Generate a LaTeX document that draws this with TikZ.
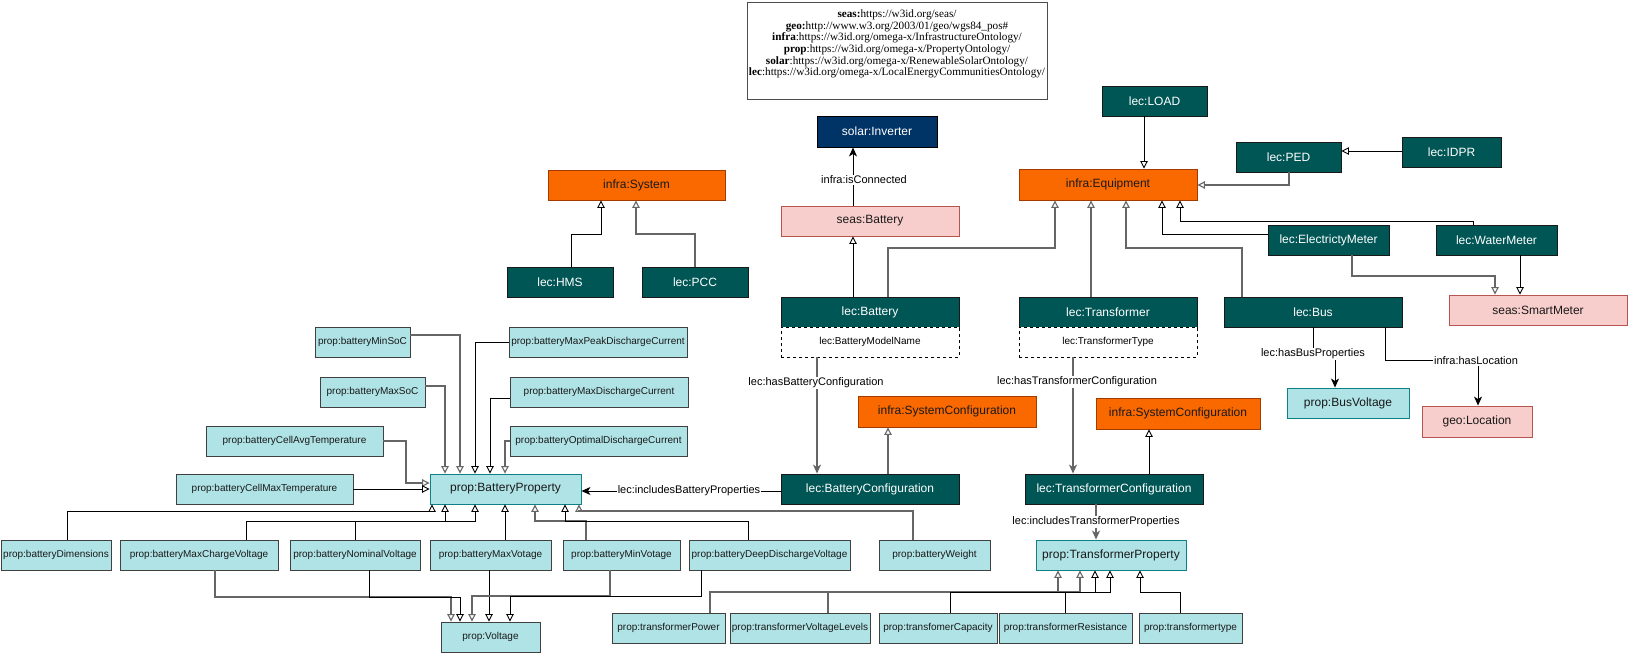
\documentclass[tikz,border=0pt]{standalone}
\usepackage{fontspec}
\setmainfont{Liberation Sans}
\newfontfamily\legendfont{Liberation Serif}
\usetikzlibrary{arrows.meta}
\definecolor{teal1}{HTML}{005555}
\definecolor{orange1}{HTML}{FA6800}
\definecolor{orangeb}{HTML}{A33A00}
\definecolor{pink1}{HTML}{F8CECC}
\definecolor{pinkb}{HTML}{B85450}
\definecolor{cyan1}{HTML}{B0E3E6}
\definecolor{cyanb}{HTML}{0E8088}
\definecolor{blue1}{HTML}{003366}
\definecolor{gray1}{HTML}{666666}
\newcommand\bx[7]{\node[#6, minimum width={#4-#2}, minimum height={#5-#3}] (#1) at ({(#2+#4)/2},{(#3+#5)/2}) {#7};}
\tikzset{
 box/.style={draw, line width=0.9pt, inner sep=0pt, font=\fontsize{12}{14}\selectfont},
 tealbox/.style={box, fill=teal1, draw=black!90, text=white},
 orangebox/.style={box, fill=orange1, draw=orangeb, text=black!90},
 pinkbox/.style={box, fill=pink1, draw=pinkb, text=black!90},
 cyanbox/.style={box, fill=cyan1, draw=cyanb, text=black!90},
 childbox/.style={box, fill=cyan1, draw=black!75, text=black!90, font=\fontsize{10}{12}\selectfont},
 dashbox/.style={box, fill=white, draw=black, dash pattern=on 3pt off 3pt, font=\fontsize{10}{12}\selectfont},
 bluebox/.style={box, fill=blue1, draw=black, text=white},
 isa/.style={-{Triangle[open,length=7.5pt,width=7.5pt]}, line width=0.9pt, draw=black},
 isag/.style={isa, draw=gray1, line width=1.1pt},
 rel/.style={-{Stealth[length=9pt,width=8pt,inset=2.5pt]}, line width=0.9pt, draw=black},
 relg/.style={rel, draw=gray1, line width=1.1pt},
 elabel/.style={fill=white, inner sep=1pt, font=\fontsize{11}{13}\selectfont, text=black},
}
\begin{document}
\begin{tikzpicture}[x=1pt,y=-1pt]
\useasboundingbox (0,0) rectangle (1628,653);
\fill[white] (0,0) rectangle (1628,653);
% legend
\node[draw=black!70, line width=0.9pt, minimum width=300, minimum height=97, inner sep=0pt, fill=white] (legend) at (897,50.5) {};
\node[font={\legendfont\fontsize{11.2}{11.7}\selectfont}, align=center, inner sep=0pt] (legendtext) at (897,44) {\textbf{seas:}https://w3id.org/seas/\\
\textbf{geo:}http://www.w3.org/2003/01/geo/wgs84\_pos\#\\
\textbf{infra}:https://w3id.org/omega-x/InfrastructureOntology/\\
\textbf{prop}:https://w3id.org/omega-x/PropertyOntology/\\
\textbf{solar}:https://w3id.org/omega-x/RenewableSolarOntology/\\
\textbf{lec}:https://w3id.org/omega-x/LocalEnergyCommunitiesOntology/};

% top area
\bx{inverter}{817}{116}{937}{147}{bluebox}{solar:Inverter}
\bx{sbat}{781}{206}{959}{236}{pinkbox}{seas:Battery}
\bx{load}{1102}{86}{1207}{116}{tealbox}{lec:LOAD}
\bx{equip}{1019}{169}{1197}{200}{orangebox}{infra:Equipment}
\bx{ped}{1236}{142}{1341}{172}{tealbox}{lec:PED}
\bx{idpr}{1402}{137}{1501}{167}{tealbox}{lec:IDPR}
\bx{em}{1268}{225}{1389}{255}{tealbox}{lec:ElectrictyMeter}
\bx{wm}{1436}{225}{1557}{255}{tealbox}{lec:WaterMeter}
\bx{smart}{1449}{295}{1627}{325}{pinkbox}{seas:SmartMeter}
\bx{lbat}{781}{297}{959}{327}{tealbox}{lec:Battery}
\bx{bmn}{781}{327}{959}{357}{dashbox}{lec:BatteryModelName}
\bx{ltr}{1019}{297}{1197}{327}{tealbox}{lec:Transformer}
\bx{ttype}{1019}{327}{1197}{357}{dashbox}{lec:TransformerType}
\bx{bus}{1224}{297}{1402}{327}{tealbox}{lec:Bus}
\bx{busv}{1287}{388}{1409}{418}{cyanbox}{prop:BusVoltage}
\bx{loc}{1422}{406}{1532}{437}{pinkbox}{geo:Location}
\bx{sys}{548}{170}{725}{200}{orangebox}{infra:System}
\bx{hms}{507}{267}{613}{297}{tealbox}{lec:HMS}
\bx{pcc}{642}{267}{748}{297}{tealbox}{lec:PCC}
\bx{sca}{858}{396}{1036}{427}{orangebox}{infra:SystemConfiguration}
\bx{bconf}{781}{474}{959}{504}{tealbox}{lec:BatteryConfiguration}
\bx{scb}{1096}{398}{1260}{429}{orangebox}{infra:SystemConfiguration}
\bx{tconf}{1025}{474}{1203}{504}{tealbox}{lec:TransformerConfiguration}
\bx{tprop}{1036}{540}{1186}{570}{cyanbox}{prop:TransformerProperty}
\bx{bprop}{430}{474}{581}{504}{cyanbox}{prop:BatteryProperty}

% battery property parents
\bx{minsoc}{315}{327}{410}{357}{childbox}{prop:batteryMinSoC}
\bx{maxsoc}{320}{377}{425}{407}{childbox}{prop:batteryMaxSoC}
\bx{cellavg}{206}{426}{383}{456}{childbox}{prop:batteryCellAvgTemperature}
\bx{cellmax}{176}{474}{353}{504}{childbox}{prop:batteryCellMaxTemperature}
\bx{peak}{509}{327}{687}{357}{childbox}{prop:batteryMaxPeakDischargeCurrent}
\bx{maxdis}{510}{377}{688}{407}{childbox}{prop:batteryMaxDischargeCurrent}
\bx{optdis}{510}{426}{687}{456}{childbox}{prop:batteryOptimalDischargeCurrent}

% bottom battery children
\bx{dim}{1}{540}{111}{570}{childbox}{prop:batteryDimensions}
\bx{mcv}{120}{540}{278}{570}{childbox}{prop:batteryMaxChargeVoltage}
\bx{nom}{290}{540}{420}{570}{childbox}{prop:batteryNominalVoltage}
\bx{mxv}{430}{540}{551}{570}{childbox}{prop:batteryMaxVotage}
\bx{mnv}{563}{540}{680}{570}{childbox}{prop:batteryMinVotage}
\bx{deep}{689}{540}{850}{570}{childbox}{prop:batteryDeepDischargeVoltage}
\bx{wt}{879}{540}{990}{570}{childbox}{prop:batteryWeight}
\bx{volt}{441}{622}{540}{652}{childbox}{prop:Voltage}

% transformer children
\bx{tpow}{612}{613}{725}{643}{childbox}{prop:transformerPower}
\bx{tvl}{730}{613}{870}{643}{childbox}{prop:transformerVoltageLevels}
\bx{tcap}{879}{613}{997}{643}{childbox}{prop:transfomerCapacity}
\bx{tres}{999}{613}{1132}{643}{childbox}{prop:transformerResistance}
\bx{ttyp}{1139}{613}{1242}{643}{childbox}{prop:transformertype}

% ---- edges ----
\draw[rel] (sbat.north -| 853,0) -- (inverter.south -| 853,0);
\node[elabel] (lisconn) at (864,180) {infra:isConnected};
\draw[isa] (lbat.north -| 853,0) -- (sbat.south -| 853,0);
\draw[isag] (lbat.north -| 888,0) -- (888,248) -- (1055,248) -- (equip.south -| 1055,0);
\draw[isag] (ltr.north -| 1091,0) -- (equip.south -| 1091,0);
\draw[isag] (bus.north -| 1242,0) -- (1242,248) -- (1126,248) -- (equip.south -| 1126,0);
\draw[isa] (em.west |- 0,234) -- (1162,234) -- (equip.south -| 1162,0);
\draw[isa] (wm.north -| 1473,0) -- (1473,221) -- (1180,221) -- (equip.south -| 1180,0);
\draw[isa] (load.south -| 1144,0) -- (equip.north -| 1144,0);
\draw[isag] (ped.south -| 1289,0) -- (1289,185) -- (equip.east |- 0,185);
\draw[isa] (idpr.west |- 0,151) -- (ped.east |- 0,151);
\draw[isag] (em.south -| 1352,0) -- (1352,276) -- (1495,276) -- (smart.north -| 1495,0);
\draw[isa] (wm.south -| 1520,0) -- (smart.north -| 1520,0);
\draw[rel] (bus.south -| 1313,0) -- (1313,354) -- (1335,354) -- (busv.north -| 1335,0);
\node[elabel] (lbusprop) at (1313,354) {lec:hasBusProperties};
\draw[rel] (bus.south -| 1385,0) -- (1385,360) -- (1478,360) -- (loc.north -| 1478,0);
\node[elabel] (lloc) at (1476,361) {infra:hasLocation};
\draw[relg] (bmn.south -| 817,0) -- (bconf.north -| 817,0);
\node[elabel] (lhbc) at (816,383) {lec:hasBatteryConfiguration};
\draw[isag] (bconf.north -| 888,0) -- (sca.south -| 888,0);
\draw[relg] (ttype.south -| 1073,0) -- (tconf.north -| 1073,0);
\node[elabel] (lhtc) at (1077,382) {lec:hasTransformerConfiguration};
\draw[isa] (tconf.north -| 1149,0) -- (scb.south -| 1149,0);
\draw[relg] (tconf.south -| 1096,0) -- (tprop.north -| 1096,0);
\node[elabel] (litp) at (1096,522) {lec:includesTransformerProperties};
\draw[rel] (bconf.west |- 0,491) -- (bprop.east |- 0,491);
\node[elabel] (libp) at (689,491) {lec:includesBatteryProperties};
\draw[isa] (hms.north -| 571,0) -- (571,234) -- (601,234) -- (sys.south -| 601,0);
\draw[isag] (pcc.north -| 695,0) -- (695,234) -- (636,234) -- (sys.south -| 636,0);

% battery property parents
\draw[isag] (minsoc.east |- 0,335) -- (460,335) -- (bprop.north -| 460,0);
\draw[isag] (maxsoc.east |- 0,386) -- (445,386) -- (bprop.north -| 445,0);
\draw[isa] (peak.west |- 0,342) -- (475,342) -- (bprop.north -| 475,0);
\draw[isa] (maxdis.west |- 0,398) -- (490,398) -- (bprop.north -| 490,0);
\draw[isag] (optdis.west |- 0,441) -- (505,441) -- (bprop.north -| 505,0);
\draw[isag] (cellavg.east |- 0,441) -- (406,441) -- (406,483) -- (bprop.west |- 0,483);
\draw[isa] (cellmax.east |- 0,489) -- (bprop.west |- 0,489);
% battery property children
\draw[isa] (dim.north -| 67,0) -- (67,511) -- (432,511) -- (bprop.south -| 432,0);
\draw[isa] (mcv.north -| 246,0) -- (246,521) -- (445,521) -- (bprop.south -| 445,0);
\draw[isa] (nom.north -| 355,0) -- (355,521) -- (475,521) -- (bprop.south -| 475,0);
\draw[isa] (mxv.north -| 505,0) -- (bprop.south -| 505,0);
\draw[isag] (mnv.north -| 586,0) -- (586,521) -- (535,521) -- (bprop.south -| 535,0);
\draw[isa] (deep.north -| 748,0) -- (748,521) -- (565,521) -- (bprop.south -| 565,0);
\draw[isag] (wt.north -| 913,0) -- (913,511) -- (579,511) -- (bprop.south -| 579,0);
% voltage
\draw[isag] (mcv.south -| 215,0) -- (215,597) -- (451,597) -- (volt.north -| 451,0);
\draw[isa] (nom.south -| 369,0) -- (369,597) -- (460,597) -- (volt.north -| 460,0);
\draw[isa] (mxv.south -| 489,0) -- (volt.north -| 489,0);
\draw[isag] (mnv.south -| 610,0) -- (610,596) -- (472,596) -- (volt.north -| 472,0);
\draw[isa] (deep.south -| 701,0) -- (701,596) -- (510,596) -- (volt.north -| 510,0);
% transformer children
\draw[isag] (tpow.north -| 710,0) -- (710,592) -- (1058,592) -- (tprop.south -| 1058,0);
\draw[isag] (tvl.north -| 828,0) -- (828,592) -- (1080,592) -- (tprop.south -| 1080,0);
\draw[isa] (tcap.north -| 950,0) -- (950,592) -- (1095,592) -- (tprop.south -| 1095,0);
\draw[isa] (tres.north -| 1065,0) -- (1065,592) -- (1110,592) -- (tprop.south -| 1110,0);
\draw[isa] (ttyp.north -| 1180,0) -- (1180,592) -- (1140,592) -- (tprop.south -| 1140,0);
\end{tikzpicture}
\end{document}
